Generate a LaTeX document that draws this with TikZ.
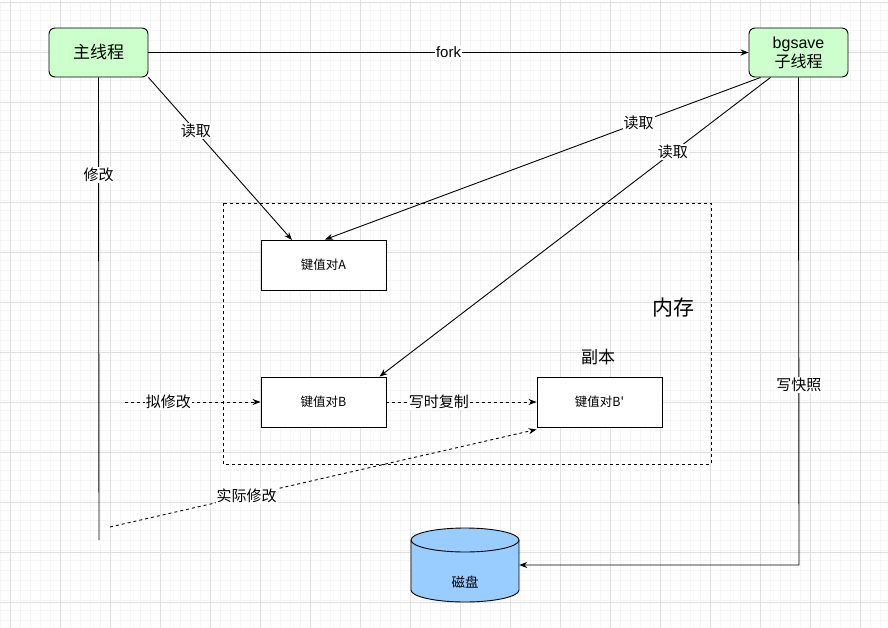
\documentclass[tikz,border=0pt]{standalone}
\usepackage{fontspec}
\setmainfont{Liberation Sans}
\newfontfamily\cjk{Noto Sans CJK SC}
\usetikzlibrary{arrows.meta}
\definecolor{grn}{HTML}{CCFFCC}
\definecolor{blu}{HTML}{99CCFF}
\begin{document}
\begin{tikzpicture}[x=1pt,y=-1pt,
  thread/.style={draw,line width=0.9pt,fill=grn,rounded corners=6pt,minimum width=99pt,minimum height=49pt,font=\cjk\fontsize{17}{19}\selectfont,align=center},
  kv/.style={draw,line width=0.9pt,fill=white,minimum width=125pt,minimum height=50pt,font=\cjk\fontsize{12.5}{14}\selectfont},
  lbl/.style={fill=white,inner sep=1pt,font=\cjk\fontsize{15}{17}\selectfont},
  arr/.style={-{Stealth[length=8pt,width=6pt]},line width=0.9pt},
  dsh/.style={arr,dash pattern=on 3pt off 3pt}]
\useasboundingbox (0,0) rectangle (888,628);
\fill[white] (0,0) rectangle (888,628);
\draw[gray!8,line width=0.5pt] (0,2) grid[step=10pt] (888,628);
\foreach \x in {10,60,...,860} \draw[gray!25,line width=0.6pt] (\x,0) -- (\x,628);
\foreach \y in {2,52,...,602} \draw[gray!25,line width=0.6pt] (0,\y) -- (888,\y);
% memory region
\draw[dash pattern=on 3pt off 3pt,line width=0.9pt] (223,203) rectangle (711,464);
\node[font=\cjk\fontsize{21}{23}\selectfont] (mem) at (673,308) {内存};
\node[font=\cjk\fontsize{17}{19}\selectfont] (copy) at (598,357) {副本};
\node[thread] (main) at (98.5,52.5) {主线程};
\node[thread,font=\fontsize{16}{19}\selectfont] (bg) at (798.5,52.5) {bgsave\\{\cjk 子线程}};
\node[kv] (A) at (323.5,265) {键值对A};
\node[kv] (B) at (323.5,402) {键值对B};
\node[kv] (Bp) at (599.5,402) {键值对B'};
% disk
\filldraw[fill=blu,draw=black,line width=0.9pt] (411,540) -- (411,590) arc[start angle=180,end angle=0,x radius=54,y radius=12] -- (519,540) arc[start angle=0,end angle=-180,x radius=54,y radius=12] -- cycle;
\draw[line width=0.9pt] (411,540) arc[start angle=180,end angle=0,x radius=54,y radius=12];
\node[minimum width=108pt,minimum height=20pt] (disk) at (465,565) {};
\node[font=\cjk\fontsize{13.5}{15}\selectfont] (disklbl) at (465,582) {磁盘};
\coordinate (mainbot) at (99,540);
\coordinate (mod0) at (125,402);
\coordinate (act0) at (110,527);
\coordinate (bgcorner) at (799,565);
% connectors
\draw[arr] (main.east) -- node[lbl,font=\fontsize{15}{17}\selectfont]{fork} (bg.west);
\draw[line width=0.9pt] (main.south) -- node[lbl,pos=0.21]{修改} (mainbot);
\draw[arr] (main.south east) -- node[lbl,pos=0.33]{读取} (292,240);
\draw[arr] ([xshift=12pt]bg.south west) -- node[lbl,pos=0.28]{读取} ([xshift=1.5pt]A.north);
\draw[arr] ([xshift=-28pt]bg.south) -- node[lbl,pos=0.25]{读取} ([xshift=56pt]B.north);
\draw[dsh] (mod0) -- node[lbl,pos=0.32]{拟修改} (B.west);
\draw[dsh] (B.east) -- node[lbl,pos=0.35]{写时复制} (Bp.west);
\draw[dsh] (act0) -- node[lbl,pos=0.32]{实际修改} ([yshift=-2pt]Bp.south west);
\draw[arr] (bg.south) -- node[lbl,pos=0.63]{写快照} (bgcorner) -- (disk.east);
\end{tikzpicture}
\end{document}
